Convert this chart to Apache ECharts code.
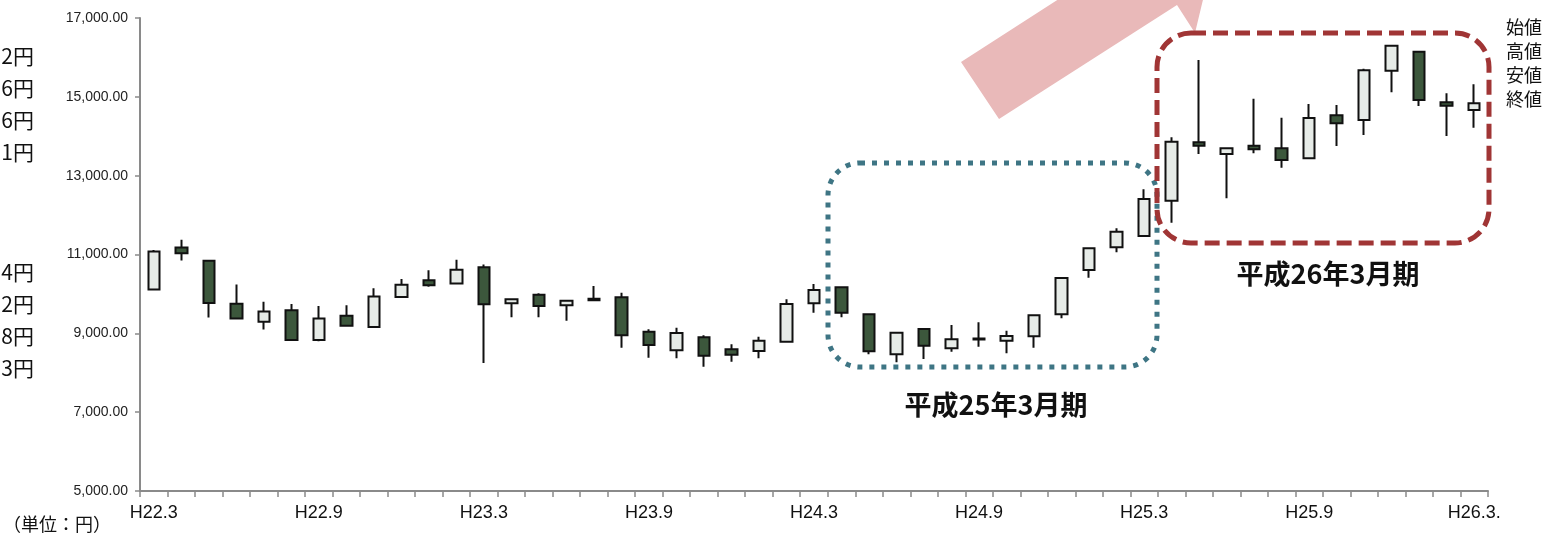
<!DOCTYPE html>
<html>
<head>
<meta charset="utf-8">
<script src="https://cdn.jsdelivr.net/npm/echarts@6/dist/echarts.min.js"></script>
<style>
  html, body { margin: 0; padding: 0; background: #fff; }
  #chart { width: 1549px; height: 536px; }
</style>
</head>
<body>
<div id="chart"></div>
<script>
// months H22.3 .. H26.3
const months = ['H22.3','H22.4','H22.5','H22.6','H22.7','H22.8','H22.9','H22.10','H22.11','H22.12','H23.1','H23.2',
  'H23.3','H23.4','H23.5','H23.6','H23.7','H23.8','H23.9','H23.10','H23.11','H23.12','H24.1','H24.2',
  'H24.3','H24.4','H24.5','H24.6','H24.7','H24.8','H24.9','H24.10','H24.11','H24.12','H25.1','H25.2',
  'H25.3','H25.4','H25.5','H25.6','H25.7','H25.8','H25.9','H25.10','H25.11','H25.12','H26.1','H26.2','H26.3.'];

const openVals  = [10113,11176,10841,9753,9293,9586,8832,9443,9159,9920,10347,10264,
  10674,9762,9980,9711,9880,9914,9042,8570,8899,8595,8552,8788,
  9762,10168,9483,8468,9110,8620,8845,8813,8924,9483,10607,11183,
  11469,12365,13846,13550,13760,13693,13441,14532,14412,15663,16145,14861,14666];
const closeVals = [11075,11033,9770,9376,9552,8832,9376,9192,9937,10230,10222,10615,
  9736,9863,9694,9828,9840,8950,8704,9009,8433,8458,8813,9744,
  10099,9524,8544,9016,8686,8848,8870,8932,9457,10404,11157,11579,
  12408,13862,13760,13693,13668,13397,14463,14328,15673,16297,14920,14776,14836];
const lowVals   = [10105,10849,9401,9370,9100,8820,8799,9180,9150,9910,10180,10255,
  8246,9407,9407,9321,9835,8636,8382,8367,8153,8280,8367,8780,
  9524,9407,8468,8265,8349,8534,8661,8492,8636,9382,10412,11056,
  11450,11807,13550,12426,13567,13202,13430,13753,14032,15115,14768,14006,14217];
const highVals  = [11117,11377,10850,10238,9803,9744,9694,9711,10146,10381,10598,10866,
  10749,9870,10015,9840,10201,10031,9102,9143,8950,8722,8915,9863,
  10252,10180,9490,9030,9120,9212,9280,9067,9470,10420,11170,11665,
  12654,13973,15934,13718,14954,14471,14818,14793,15714,16320,16160,15090,15318];

const legendLines = ['始値','高値','安値','終値'];
const leftUpper = ['2円','6円','6円','1円'];
const leftLower = ['4円','2円','8円','3円'];

const JP = '"Noto Sans CJK JP", sans-serif';

window.addEventListener('DOMContentLoaded', function () {
  var chart = echarts.init(document.getElementById('chart'));

  var candles = months.map((m, i) => [openVals[i], closeVals[i], lowVals[i], highVals[i]]);

  function txt(text, x, y, size, align, weight) {
    return {
      type: 'text', z: 10,
      style: {
        text: text, x: x, y: y, fill: '#111',
        font: (weight || 'normal') + ' ' + size + 'px ' + JP,
        align: align, textAlign: align,
        verticalAlign: 'middle', textVerticalAlign: 'middle'
      }
    };
  }

  var graphics = [
    // pink arrow (tip runs off the top)
    {
      type: 'polygon', z: 1, silent: true,
      shape: { points: [[999,119],[961,62],[1138,-52],[1120,-80],[1218,-63],[1195,33],[1177,5]] },
      style: { fill: '#e9b9b9' }
    },
    // 平成25年3月期 box
    {
      type: 'rect', z: 5, silent: true,
      shape: { x: 828, y: 163, width: 329, height: 204, r: 32 },
      style: { fill: 'none', stroke: '#3e7584', lineWidth: 5, lineDash: [5, 7] }
    },
    // 平成26年3月期 box
    {
      type: 'rect', z: 6, silent: true,
      shape: { x: 1157, y: 33, width: 332, height: 210, r: 34 },
      style: { fill: 'none', stroke: '#a03535', lineWidth: 5, lineDash: [15, 7] }
    },
    txt('平成25年3月期', 996, 405, 27, 'center', 'bold'),
    txt('平成26年3月期', 1328, 274, 27, 'center', 'bold'),
    txt('（単位：円）', 3, 524, 18, 'left')
  ];
  legendLines.forEach((t, i) => graphics.push(txt(t, 1506, 27 + i * 24, 18, 'left')));
  leftUpper.forEach((t, i) => graphics.push(txt(t, 34, 56 + i * 32, 21, 'right')));
  leftLower.forEach((t, i) => graphics.push(txt(t, 34, 272 + i * 32, 21, 'right')));

  var option = {
    animation: false,
    backgroundColor: '#fff',
    grid: { left: 140, right: 61, top: 18, bottom: 45 },
    xAxis: {
      type: 'category',
      data: months,
      boundaryGap: true,
      axisLine: { lineStyle: { color: '#8a8a8a', width: 2 } },
      axisTick: { show: true, interval: 0, length: 6, lineStyle: { color: '#8a8a8a', width: 1.5 } },
      axisLabel: {
        interval: 5, margin: 13, color: '#111',
        fontFamily: '"Liberation Sans Narrow", "Liberation Sans", sans-serif', fontSize: 18
      },
      splitLine: { show: false }
    },
    yAxis: {
      type: 'value',
      min: 5000, max: 17000, interval: 2000,
      axisLine: { show: true, lineStyle: { color: '#8a8a8a', width: 2 } },
      axisTick: { show: true, length: 5, lineStyle: { color: '#8a8a8a', width: 1.5 } },
      axisLabel: {
        margin: 12, color: '#222',
        fontFamily: '"Liberation Sans", sans-serif', fontSize: 14,
        formatter: v => v.toLocaleString('en-US', { minimumFractionDigits: 2, maximumFractionDigits: 2 })
      },
      splitLine: { show: false }
    },
    series: [{
      type: 'candlestick',
      data: candles,
      barWidth: 12,
      itemStyle: {
        color: '#e6ebe7', color0: '#3c573c',
        borderColor: '#111', borderColor0: '#111', borderColorDoji: '#111',
        borderWidth: 2
      }
    }],
    graphic: graphics
  };

  chart.setOption(option);
}, false);
</script>
</body>
</html>
